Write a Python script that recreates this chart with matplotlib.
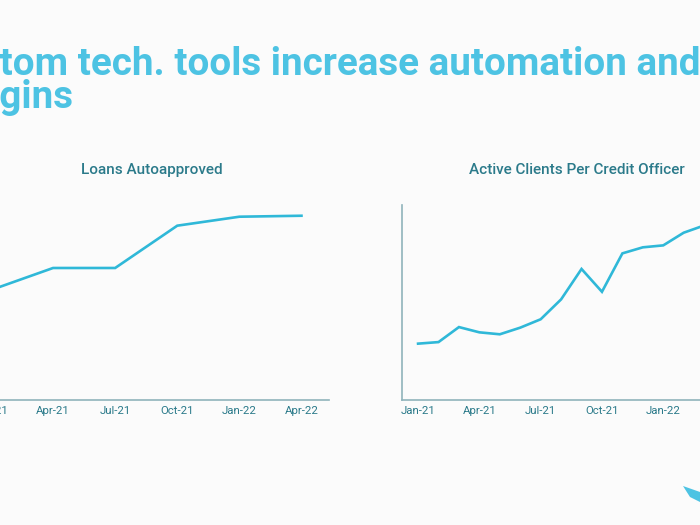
import matplotlib.pyplot as plt
from matplotlib.patches import Polygon

# data (y axis has no labels so values are relative 0-100)
tick_months = [0, 3, 6, 9, 12, 15]
tick_labels = ['Jan-21', 'Apr-21', 'Jul-21', 'Oct-21', 'Jan-22', 'Apr-22']

loans_months = [0, 3, 6, 9, 12, 15]
loans_auto = [56.4, 67.7, 67.7, 89.4, 94.0, 94.5]

clients_months = list(range(15))
clients_per_officer = [28.9, 29.7, 37.4, 34.7, 33.7, 37.1, 41.4, 51.6, 67.2,
                       55.5, 75.2, 78.3, 79.3, 85.8, 89.5]

title_l1 = 'Custom tech. tools increase automation and'
title_l2 = 'margins'

line_col = '#2fb8d8'
txt_col = '#2b7a8a'
spine_col = '#8fb3bb'
head_col = '#4dc3e3'

plt.rcParams['font.family'] = ['Roboto', 'DejaVu Sans']

fig = plt.figure(figsize=(7, 5.25), dpi=100)
fig.patch.set_facecolor('#fbfbfb')

ax1 = fig.add_axes([-0.0366, 0.2381, 0.5066, 0.3714])
ax2 = fig.add_axes([0.5739, 0.2381, 0.5, 0.3714])

ax1.plot(loans_months, loans_auto, color=line_col, lw=1.9, solid_joinstyle='miter')
ax2.plot(clients_months, clients_per_officer, color=line_col, lw=1.9, solid_joinstyle='miter')

for ax, ttl in [(ax1, 'Loans Autoapproved'), (ax2, 'Active Clients Per Credit Officer')]:
    ax.set_facecolor('none')
    ax.set_xlim(-0.8, 16.33)
    ax.set_ylim(0, 100)
    ax.set_xticks(tick_months)
    ax.set_xticklabels(tick_labels)
    ax.set_yticks([])
    ax.tick_params(axis='x', length=0, pad=4, labelsize=8.2, labelcolor=txt_col)
    for s in ['top', 'right']:
        ax.spines[s].set_visible(False)
    for s in ['left', 'bottom']:
        ax.spines[s].set_color(spine_col)
        ax.spines[s].set_linewidth(1.2)
    ax.set_title(ttl, color=txt_col, fontsize=11, fontweight='medium', pad=22)

# headline, cut off on the left like the slide crop
hs = 27.8
fig.canvas.draw()
r = fig.canvas.get_renderer()
tmp = fig.text(0, 0, 'Cus', fontsize=hs, fontweight='bold')
w = tmp.get_window_extent(r).width / fig.bbox.width
tmp.remove()
fig.text(-w, 1 - 75 / 525, title_l1, fontsize=hs, fontweight='bold', color=head_col,
         ha='left', va='baseline')
tmp = fig.text(0, 0, 'mar', fontsize=hs, fontweight='bold')
w2 = tmp.get_window_extent(r).width / fig.bbox.width
tmp.remove()
fig.text(-w2, 1 - 108 / 525, title_l2, fontsize=hs, fontweight='bold', color=head_col,
         ha='left', va='baseline')

# little wing logo bottom right
wing = Polygon([(683 / 700, 1 - 486 / 525), (700 / 700, 1 - 492 / 525),
                (700 / 700, 1 - 502 / 525), (690 / 700, 1 - 497 / 525)],
               closed=True, transform=fig.transFigure, color=head_col, lw=0)
fig.patches.append(wing)

fig.savefig('out.png', dpi=100, facecolor=fig.get_facecolor())
